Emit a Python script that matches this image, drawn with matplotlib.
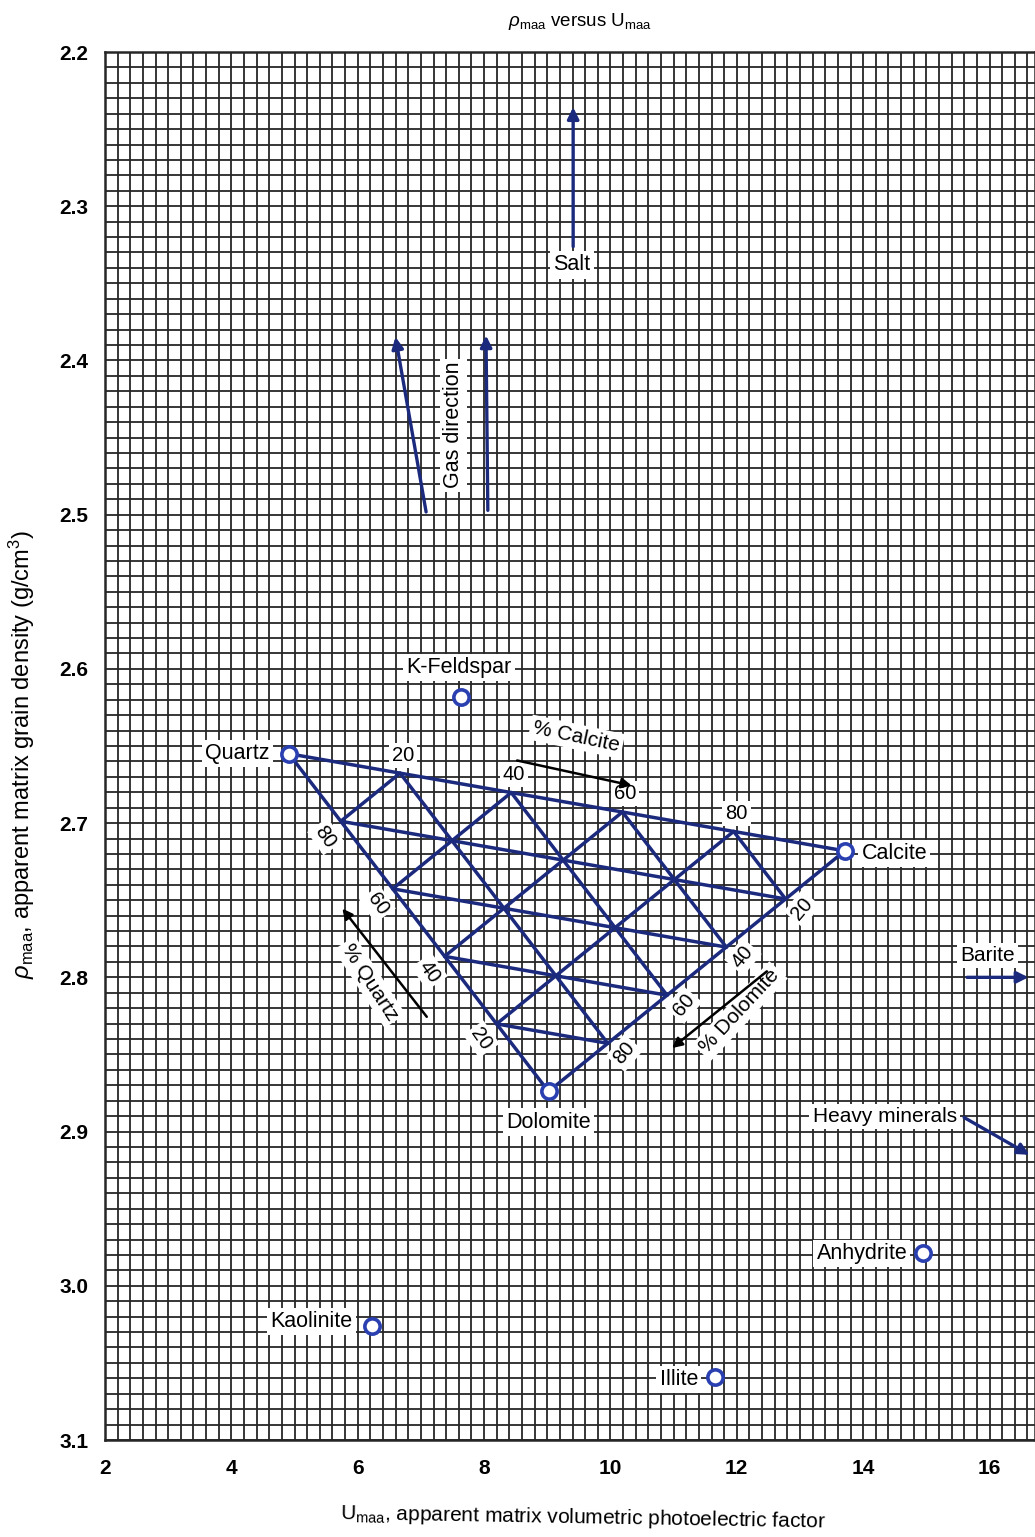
import matplotlib
matplotlib.use("Agg")
import matplotlib.pyplot as plt
import numpy as np
from matplotlib.ticker import MultipleLocator

plt.rcParams["font.family"] = ["Liberation Sans", "DejaVu Sans"]
plt.rcParams["mathtext.fontset"] = "custom"
plt.rcParams["mathtext.rm"] = "Liberation Sans"
plt.rcParams["mathtext.it"] = "Liberation Sans:italic"

# Matrix end-member minerals: apparent photoelectric factor and grain density
minerals = ["Quartz", "Calcite", "Dolomite", "K-Feldspar", "Kaolinite", "Illite", "Anhydrite"]
umaa = [4.91, 13.71, 9.02, 7.63, 6.23, 11.65, 14.94]
rhomaa = [2.655, 2.718, 2.874, 2.618, 3.026, 3.059, 2.979]

# Ternary grid percentages (quartz-calcite-dolomite)
pct_ticks = [20, 40, 60, 80]

# Trend arrows: (tail U, tail rho, head U, head rho)
salt_arrow = [9.41, 2.328, 9.41, 2.234]
gas_arrows = [[7.09, 2.500, 6.59, 2.383], [8.06, 2.499, 8.03, 2.382]]
barite_arrow = [15.60, 2.800, 16.66, 2.800]
heavy_arrow = [15.56, 2.890, 16.67, 2.916]

# Direction arrows for the percentage scales
calcite_dir = [8.48, 2.659, 10.38, 2.676]
quartz_dir = [7.12, 2.827, 5.73, 2.754]
dolomite_dir = [12.51, 2.795, 10.94, 2.847]

x_ticks = [2, 4, 6, 8, 10, 12, 14, 16]
y_ticks = [2.2, 2.3, 2.4, 2.5, 2.6, 2.7, 2.8, 2.9, 3.0, 3.1]

NAVY = "#1c2a7e"
MARK = "#2a3fb0"
GRIDC = "#262626"

fig = plt.figure(figsize=(10.35, 15.37), dpi=100)
fig.patch.set_facecolor("white")
ax = fig.add_axes([105 / 1035, 1 - 1440 / 1537, 930 / 1035, (1440 - 52) / 1537])

ax.set_xlim(2, 16.72)
ax.set_ylim(3.1, 2.2)
ax.xaxis.set_minor_locator(MultipleLocator(0.2))
ax.yaxis.set_minor_locator(MultipleLocator(0.01))
ax.set_xticks(x_ticks)
ax.set_xticklabels([str(v) for v in x_ticks])
ax.set_yticks(y_ticks)
ax.set_yticklabels([f"{v:.1f}" for v in y_ticks])
ax.grid(which="both", color=GRIDC, lw=1.3, zorder=0)
ax.set_axisbelow(True)
ax.tick_params(which="both", length=0)
ax.tick_params(axis="x", pad=14, labelsize=15)
ax.tick_params(axis="y", pad=12, labelsize=15)
for lab in ax.get_xticklabels() + ax.get_yticklabels():
    lab.set_fontweight("bold")
for s in ax.spines.values():
    s.set_color(GRIDC)
    s.set_linewidth(1.8)

box = dict(boxstyle="square,pad=0.15", fc="white", ec="none")

# Ternary quartz-calcite-dolomite grid
Q = np.array([umaa[0], rhomaa[0]])
C = np.array([umaa[1], rhomaa[1]])
D = np.array([umaa[2], rhomaa[2]])


def mix(q, c, d):
    return q * Q + c * C + d * D


def seg(p0, p1):
    ax.plot([p0[0], p1[0]], [p0[1], p1[1]], color=NAVY, lw=2.5, zorder=3,
            solid_capstyle="round")


seg(Q, C)
seg(C, D)
seg(D, Q)
for p in pct_ticks:
    f = p / 100
    seg(mix(1 - f, f, 0), mix(0, f, 1 - f))      # constant calcite
    seg(mix(f, 1 - f, 0), mix(f, 0, 1 - f))      # constant quartz
    seg(mix(1 - f, 0, f), mix(0, 1 - f, f))      # constant dolomite

for p in pct_ticks:
    f = p / 100
    pc = mix(1 - f, f, 0)
    ax.annotate(str(p), pc, xytext=(2, 13), textcoords="offset points",
                ha="center", va="center", fontsize=14.5, bbox=box, zorder=5)
    pq = mix(f, 0, 1 - f)
    ax.annotate(str(p), pq, xytext=(-11, -11), textcoords="offset points",
                ha="center", va="center", fontsize=14.5, rotation=-55, bbox=box, zorder=5)
    pd = mix(0, 1 - f, f)
    ax.annotate(str(p), pd, xytext=(12, -7), textcoords="offset points",
                ha="center", va="center", fontsize=14.5, rotation=50, bbox=box, zorder=5)

# Percentage scale arrows and captions
arrow_k = dict(arrowstyle="-|>", color="black", lw=1.8, mutation_scale=15)
for a in (calcite_dir, quartz_dir, dolomite_dir):
    ax.annotate("", xy=(a[2], a[3]), xytext=(a[0], a[1]), arrowprops=arrow_k, zorder=6)
ax.text(9.46, 2.644, "% Calcite", fontsize=15, rotation=-12, ha="center", va="center",
        bbox=box, zorder=5)
ax.text(6.19, 2.803, "% Quartz", fontsize=15, rotation=-57, ha="center", va="center",
        bbox=box, zorder=5)
ax.text(12.05, 2.822, "% Dolomite", fontsize=15, rotation=47, ha="center", va="center",
        bbox=box, zorder=5)

# Mineral points and their names
ax.plot(umaa, rhomaa, linestyle="none", marker="o", ms=11, mfc="white", mec=MARK,
        mew=2.6, zorder=7)
name_pos = {
    "Quartz": ((-14, 0), "right", "center"),
    "Calcite": ((12, -2), "left", "center"),
    "Dolomite": ((0, -22), "center", "center"),
    "K-Feldspar": ((-1, 21), "center", "center"),
    "Kaolinite": ((-14, 3), "right", "center"),
    "Illite": ((-12, -2), "right", "center"),
    "Anhydrite": ((-11, 0), "right", "center"),
}
for name, u, r in zip(minerals, umaa, rhomaa):
    off, ha, va = name_pos[name]
    ax.annotate(name, (u, r), xytext=off, textcoords="offset points", ha=ha, va=va,
                fontsize=15.5, bbox=box, zorder=8)

# Trend arrows
arrow_n = dict(arrowstyle="-|>", color=NAVY, lw=2.4, mutation_scale=17)
for a in [salt_arrow] + gas_arrows + [barite_arrow, heavy_arrow]:
    ax.annotate("", xy=(a[2], a[3]), xytext=(a[0], a[1]), arrowprops=arrow_n,
                zorder=9, annotation_clip=False)
ax.text(9.39, 2.338, "Salt", fontsize=15.5, ha="center", va="center", bbox=box, zorder=8)
ax.text(7.52, 2.442, "Gas direction", fontsize=15.5, rotation=90, ha="center",
        va="center", bbox=box, zorder=8)
ax.text(15.97, 2.786, "Barite", fontsize=15, ha="center", va="center", bbox=box, zorder=8)
ax.text(14.34, 2.890, "Heavy minerals", fontsize=15, ha="center", va="center",
        bbox=box, zorder=8)

# Titles
fig.text(0.560, 0.9857, r"$\rho_{\mathrm{maa}}$ versus U$_{\mathrm{maa}}$", fontsize=13.5,
         ha="center", va="center")
fig.text(0.563, 0.0125,
         r"U$_{\mathrm{maa}}$, apparent matrix volumetric photoelectric factor",
         fontsize=15, ha="center", va="center", rotation=-1)
fig.text(0.021, 0.509,
         r"$\rho_{\mathrm{maa}}$, apparent matrix grain density (g/cm$^3$)",
         fontsize=17, ha="center", va="center", rotation=90)

fig.savefig("out.png", dpi=100, facecolor=fig.get_facecolor())
